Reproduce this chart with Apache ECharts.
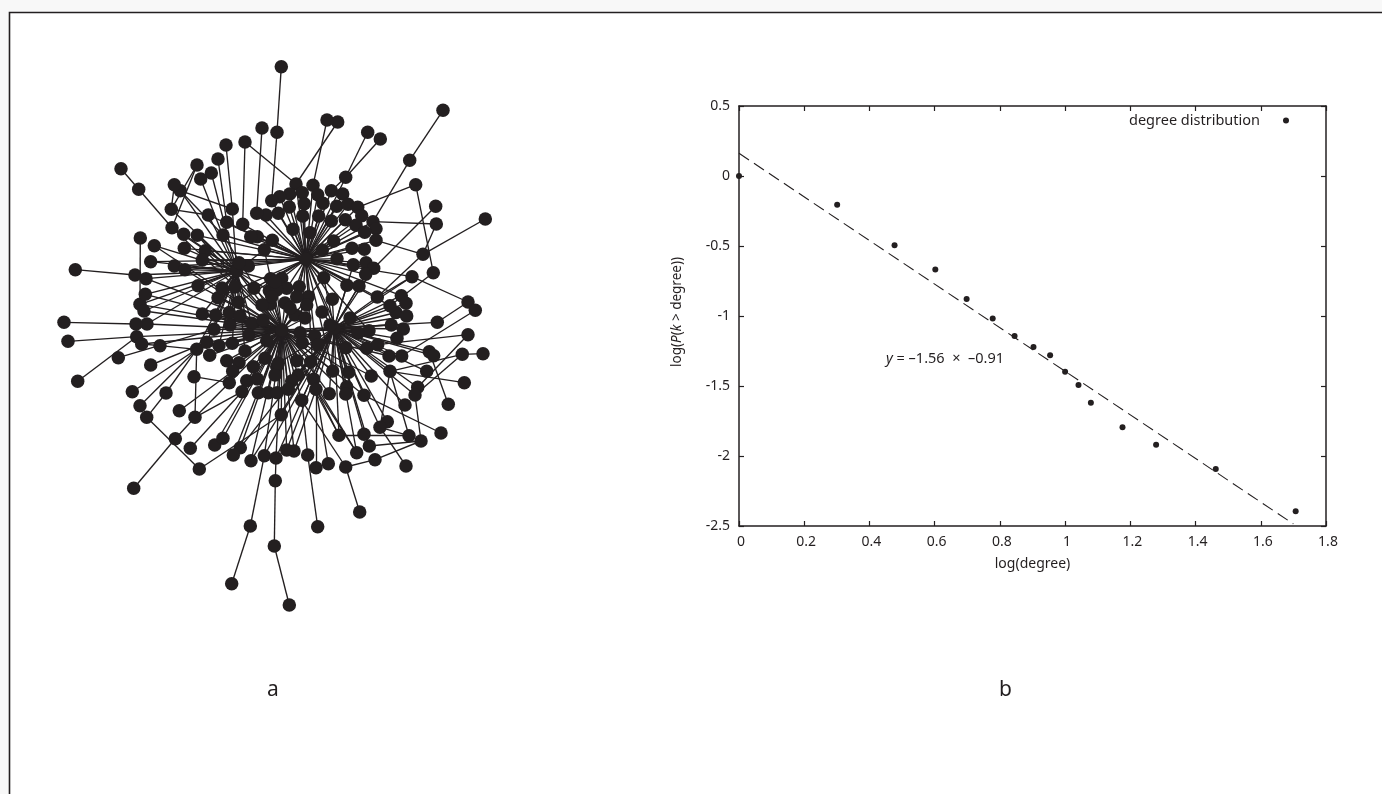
<!DOCTYPE html>
<html><head><meta charset="utf-8">
<style>html,body{margin:0;padding:0;background:#fff}#c{width:1382px;height:794px}</style>
<script src="https://cdn.jsdelivr.net/npm/echarts@6/dist/echarts.min.js"></script></head>
<body><div id="c"></div>
<script>
// ---- panel b data ----
const logDegree = [0,0.301,0.477,0.602,0.698,0.778,0.845,0.903,0.954,1.0,1.041,1.079,1.176,1.279,1.462,1.707];
const logP = [0,-0.205,-0.495,-0.667,-0.879,-1.017,-1.143,-1.221,-1.281,-1.398,-1.493,-1.619,-1.795,-1.919,-2.093,-2.395];
const fitX = [0,1.7];
const fitY = [0.162,-2.485];
const seriesName = 'degree distribution';
// ---- panel a data: network nodes ----
const hubA=[305.7,259.3], hubB=[282,330], hubC=[334,328], hubD=[236.7,271];
const spokesA=[[296,184],[313,185.3],[331.3,190.7],[342.7,194],[302.3,192.7],[317.7,194.7],[289.7,194],[279.7,196.7],[271.7,200.7],[323,203.3],[304.3,203.7],[289.3,207],[336.7,206.3],[348,204.3],[357.7,207.3],[361.7,215.7],[278.3,213.3],[302.7,216],[318.7,216],[331.3,221],[345.3,219.7],[356,225.3],[373,221.7],[376,228.7],[364.7,232.3],[376,240.3],[293,229.3],[310,232.7],[272.3,240.3],[333.7,241],[322.3,250],[352,248.3],[364.3,249.3],[337,258.7],[353.3,264.7],[366,262.7],[373.7,268.3],[365.7,274.3],[323.7,277.7],[347,285.3],[359,286],[266,215],[256.7,213.3],[242.7,224.3],[264.3,249.7],[257.3,236.7],[250.7,236.7],[226.7,222.3],[223,235],[248.3,266],[332.3,299.3],[299.3,286.7],[308.3,296.7],[270.7,278.7],[345.7,177.3],[281.7,278.3],[286.7,288.3],[296.7,296.7]];
const spokesD=[[172,227.7],[183.7,234.3],[197.3,235.3],[184.3,248.3],[205.3,250.7],[202.3,260],[174.3,266],[185,269.7],[154.3,245.7],[150.7,261.7],[146,278.7],[145.3,294.3],[198,285.7],[218,297.7],[208.3,215],[171.3,209.3],[180.3,190.7],[211.3,173],[200.7,179],[135,275],[232.3,209],[239,262.7],[254,288.3],[238.3,302.3],[275,281.7],[222,288],[235,287]];
const spokesB=[[140,304.3],[144,311],[147,324],[136.7,336.7],[141.7,344],[196.7,349.3],[206.7,342.3],[219,345.7],[232.3,343.3],[209.7,355.3],[226.7,360.7],[239,362.7],[245,351],[214,329.3],[202.3,314],[215.7,315],[229.3,312.5],[230,325],[251.7,323.3],[249,335],[266.7,340.7],[265,358.3],[253.3,366.7],[232.7,371.3],[229.3,382.7],[246.7,380.7],[257.3,379],[242,391.7],[276.7,366.7],[275,375],[258.3,392.7],[268.3,392.7],[277.3,392.7],[214.7,445],[223,438.3],[240.3,447.7],[233.3,455],[251,460.7],[264.3,455.7],[276,458],[281.3,414.7],[269.3,290.7],[270,304.3],[300,332.7],[302.3,342.7],[314.7,335.7],[296.7,360.7],[278.3,363.3],[298.3,375],[291.7,381],[288.3,389.3],[286.7,450],[294,451],[301.7,400.3],[310.7,361.7],[276.7,290],[285,303],[271.7,296.7],[306.7,305],[262,305],[295,315],[263,320],[240,316],[290,308],[305,318]];
const spokesC=[[369,330.7],[391.3,325],[396,312.5],[406.7,316],[403.3,329],[397,338.3],[437.3,322.3],[346,347.7],[366.7,348.3],[377.7,344.7],[429.3,351.7],[433.7,355.7],[389,356],[401.7,356],[426.7,371.3],[390,371.3],[371.3,376],[348.7,372.3],[332.7,371],[313.7,379.3],[316,389.3],[329.3,393.7],[346.7,386.7],[345.7,394],[364,395.3],[417.7,387.3],[415,395],[405,405],[387.3,421.7],[380,427.3],[364,434.3],[339,435.3],[369.3,446],[356.7,452.7],[377.3,297],[390,305.7],[401.3,295.7],[406,303.3],[412,276.7],[330,325],[350,318],[322,312],[358,333],[318,345]];
const outerNodes=[[281.3,66.7],[277,132.3],[262,128],[245,142],[226,145],[218,159],[197,165],[174.3,184.7],[121,168.7],[138.7,189.3],[140.3,238],[75.3,269.7],[64,322.3],[68,341.3],[77.7,381.3],[136,324],[160,345.7],[118.3,357.7],[150.7,365],[194,376.7],[132.3,391.7],[166,393],[140,405.7],[146.7,417.3],[179.3,410.7],[195,417.3],[175.3,438.7],[190.3,448.3],[133.7,488.3],[199.3,469],[275.3,480.7],[250.3,526],[274.3,546],[231.7,583.7],[289.3,605],[345.7,467],[359.7,512],[307.7,455],[317.7,526.7],[316,467.7],[328.3,463.7],[375,459.7],[421,441],[409,435.7],[406,466],[441,433],[448.3,404.3],[464.3,382.7],[462.3,354.3],[483,353.7],[468,334.7],[468,302],[475.3,310.3],[433.3,272.7],[423,254.3],[485.3,219],[436.3,224],[435.7,206.3],[415.7,184.7],[409.7,160.3],[443,110.3],[380.3,139],[367.7,132.3],[337.7,122],[327,120]];
// nodes that carry a second line to another hub
const alsoA=[[184.3,248.3],[202.3,260],[205.3,250.7],[174.3,266],[185,269.7],[150.7,261.7],[218,297.7],[238.3,302.3],[254,288.3],[401.3,295.7],[390,305.7],[377.3,297],[412,276.7],[369,330.7],[346,347.7],[332.7,371],[314.7,335.7],[300,332.7],[208.3,215],[197.3,235.3]];
const alsoB=[[172,227.7],[197.3,235.3],[205.3,250.7],[185,269.7],[146,278.7],[145.3,294.3],[198,285.7],[218,297.7],[154.3,245.7],[223,235],[346,347.7],[348.7,372.3],[339,435.3],[364,395.3],[329.3,393.7],[345.7,394],[369,330.7],[391.3,325],[389,356],[371.3,376],[356.7,452.7],[299.3,286.7],[323.7,277.7],[264.3,249.7]];
const alsoC=[[373.7,268.3],[365.7,274.3],[359,286],[347,285.3],[332.3,299.3],[323.7,277.7],[298.3,375],[291.7,381],[288.3,389.3],[301.7,400.3],[281.3,414.7],[276,458],[286.7,450],[264.3,455.7],[310.7,361.7],[278.3,363.3],[296.7,360.7],[251,460.7],[240.3,447.7],[353.3,264.7]];
const alsoD=[[202.3,314],[215.7,315],[214,329.3],[206.7,342.3],[219,345.7],[196.7,349.3],[230,325],[229.3,312.5],[251.7,323.3],[249,335],[232.3,343.3],[245,351],[270,304.3],[269.3,290.7],[144,311],[140,304.3],[147,324],[264.3,249.7]];
const extraEdges=[[281.3,66.7,277,132.3],[277,132.3,271.7,200.7],[262,128,256.7,213.3],[245,142,242.7,224.3],[245,142,296,184],[226,145,232.3,209],[218,159,226.7,222.3],[197,165,171.3,209.3],[197,165,172,227.7],[174.3,184.7,171.3,209.3],[121,168.7,138.7,189.3],[138.7,189.3,172,227.7],[140.3,238,140,304.3],[75.3,269.7,135,275],[64,322.3,136,324],[136,324,147,324],[68,341.3,136.7,336.7],[77.7,381.3,136.7,336.7],[146.7,417.3,199.3,469],[146.7,417.3,166,393],[133.7,488.3,175.3,438.7],[175.3,438.7,195,417.3],[195,417.3,196.7,349.3],[194,376.7,229.3,382.7],[195,417.3,229.3,382.7],[195,417.3,242,391.7],[140,405.7,196.7,349.3],[132.3,391.7,196.7,349.3],[166,393,196.7,349.3],[179.3,410.7,232.7,371.3],[190.3,448.3,242,391.7],[199.3,469,281.3,414.7],[118.3,357.7,214,329.3],[150.7,365,206.7,342.3],[160,345.7,196.7,349.3],[160,345.7,141.7,344],[250.3,526,231.7,583.7],[250.3,526,264.3,455.7],[274.3,546,275.3,480.7],[274.3,546,289.3,605],[275.3,480.7,276,458],[359.7,512,345.7,467],[317.7,526.7,307.7,455],[307.7,455,301.7,400.3],[345.7,467,301.7,400.3],[345.7,467,375,459.7],[375,459.7,421,441],[369.3,446,421,441],[339,435.3,409,435.7],[409,435.7,380,427.3],[406,466,380,427.3],[421,441,415,395],[390,371.3,380,427.3],[390,371.3,409,435.7],[316,467.7,316,389.3],[328.3,463.7,316,389.3],[294,451,316,389.3],[339,435.3,316,389.3],[356.7,452.7,316,389.3],[441,433,364,395.3],[448.3,404.3,429.3,351.7],[464.3,382.7,390,371.3],[462.3,354.3,483,353.7],[462.3,354.3,390,371.3],[462.3,354.3,415,395],[468,334.7,377.7,344.7],[468,334.7,417.7,387.3],[475.3,310.3,401.7,356],[468,302,412,276.7],[468,302,437.3,322.3],[412,276.7,377.3,297],[433.3,272.7,390,305.7],[415.7,184.7,433.3,272.7],[415.7,184.7,357.7,207.3],[423,254.3,376,240.3],[423,254.3,377.3,297],[485.3,219,423,254.3],[436.3,224,423,254.3],[436.3,224,373,221.7],[435.7,206.3,373.7,268.3],[409.7,160.3,373,221.7],[443,110.3,409.7,160.3],[380.3,139,345.7,177.3],[367.7,132.3,345.7,177.3],[337.7,122,296,184],[327,120,313,185.3],[345.7,177.3,331.3,190.7],[180.3,190.7,232.3,209],[180.3,190.7,223,235],[171.3,209.3,208.3,215],[172,227.7,183.7,234.3],[300,332.7,334,328],[332.7,371,282,330],[316,389.3,282,330],[313.7,379.3,305.7,259.3],[282,330,305.7,259.3],[282,330,236.7,271],[334,328,305.7,259.3]];

const hubs=[hubA,hubB,hubC,hubD];
const groups=[spokesA,spokesB,spokesC,spokesD];
const secondGroups=[alsoA,alsoB,alsoC,alsoD];
const allNodes=hubs.concat(spokesA,spokesB,spokesC,spokesD,outerNodes);
function nearest(x,y){let b=0,d=1e9;allNodes.forEach((n,i)=>{const q=(n[0]-x)**2+(n[1]-y)**2;if(q<d){d=q;b=i;}});return b;}
const links=[];
groups.concat(secondGroups).forEach((g,h)=>g.forEach(p=>links.push({source:nearest(p[0],p[1]),target:h%4})));
extraEdges.forEach(e=>links.push({source:nearest(e[0],e[1]),target:nearest(e[2],e[3])}));

const INK='#231f20', FONT='"Noto Sans", sans-serif';
const W=1382,H=794;
const tick={show:true,inside:true,length:5,lineStyle:{color:INK,width:1.2}};
const line={show:true,onZero:false,lineStyle:{color:INK,width:1.5}};
const chart=echarts.init(document.getElementById('c'),null,{renderer:'canvas'});
chart.setOption({
  animation:false,
  backgroundColor:'#f8f8f8',
  textStyle:{fontFamily:FONT,color:INK},
  title:[
    {text:'a',left:267,top:680,textStyle:{fontSize:21,fontWeight:'normal',color:INK,fontFamily:FONT},padding:0},
    {text:'b',left:999,top:680,textStyle:{fontSize:21,fontWeight:'normal',color:INK,fontFamily:FONT},padding:0}
  ],
  graphic:[
    {type:'rect',z:-10,shape:{x:9.5,y:12.5,width:W,height:H},style:{fill:'#fff',stroke:INK,lineWidth:1.6}},
    {type:'text',left:886,top:351,z:20,style:{text:'{i|y} = –1.56  ×  –0.91',font:'14.5px '+FONT,fill:INK,
      rich:{i:{fontStyle:'italic',fontSize:14.5,fontFamily:FONT,fill:INK}}}}
  ],
  legend:{data:[seriesName],left:1129,top:113,align:'right',icon:'circle',itemWidth:42,itemHeight:6,padding:0,
    textStyle:{fontSize:14.5,color:INK,fontFamily:FONT},selectedMode:false},
  grid:[
    {left:739,top:106,width:587,height:420,containLabel:false},
    {left:0,top:0,width:W,height:H,containLabel:false}
  ],
  xAxis:[
    {type:'value',gridIndex:0,min:0,max:1.8,interval:0.2,position:'bottom',name:'log(degree)',nameLocation:'middle',nameGap:31,
      nameTextStyle:{fontSize:14,color:INK,fontFamily:FONT},axisLine:line,axisTick:tick,splitLine:{show:false},
      axisLabel:{fontSize:14,color:INK,margin:9,padding:[0,0,0,4],fontFamily:FONT}},
    {type:'value',gridIndex:0,min:0,max:1.8,interval:0.2,position:'top',axisLine:line,axisTick:tick,splitLine:{show:false},axisLabel:{show:false}},
    {type:'value',gridIndex:1,min:0,max:W,show:false,splitLine:{show:false}}
  ],
  yAxis:[
    {type:'value',gridIndex:0,min:-2.5,max:0.5,interval:0.5,position:'left',
      name:'log({i|P}({i|k} > degree))',nameLocation:'middle',nameGap:55,nameRotate:90,
      nameTextStyle:{fontSize:13.5,color:INK,fontFamily:FONT,padding:[0,0,0,8],rich:{i:{fontStyle:'italic',fontSize:13.5,fontFamily:FONT,color:INK}}},
      axisLine:line,axisTick:tick,splitLine:{show:false},
      axisLabel:{fontSize:14,color:INK,margin:9,fontFamily:FONT}},
    {type:'value',gridIndex:0,min:-2.5,max:0.5,interval:0.5,position:'right',axisLine:line,axisTick:tick,splitLine:{show:false},axisLabel:{show:false}},
    {type:'value',gridIndex:1,min:0,max:H,inverse:true,show:false,splitLine:{show:false}}
  ],
  series:[
    {type:'graph',name:'network',coordinateSystem:'cartesian2d',xAxisIndex:2,yAxisIndex:2,layout:'none',silent:true,
      data:allNodes.map(n=>({value:n})),links:links,symbol:'circle',symbolSize:13.5,
      itemStyle:{color:INK,opacity:1},lineStyle:{color:INK,width:1.35,opacity:1,curveness:0},label:{show:false},edgeSymbol:['none','none']},
    {type:'line',name:'fit',xAxisIndex:0,yAxisIndex:0,data:fitX.map((x,i)=>[x,fitY[i]]),symbol:'none',silent:true,clip:false,
      lineStyle:{color:INK,width:1.1,type:[12,6]},z:3},
    {type:'scatter',name:seriesName,xAxisIndex:0,yAxisIndex:0,data:logDegree.map((x,i)=>[x,logP[i]]),symbol:'circle',symbolSize:6,clip:false,
      itemStyle:{color:INK,opacity:1},z:4}
  ]
});
</script></body></html>
